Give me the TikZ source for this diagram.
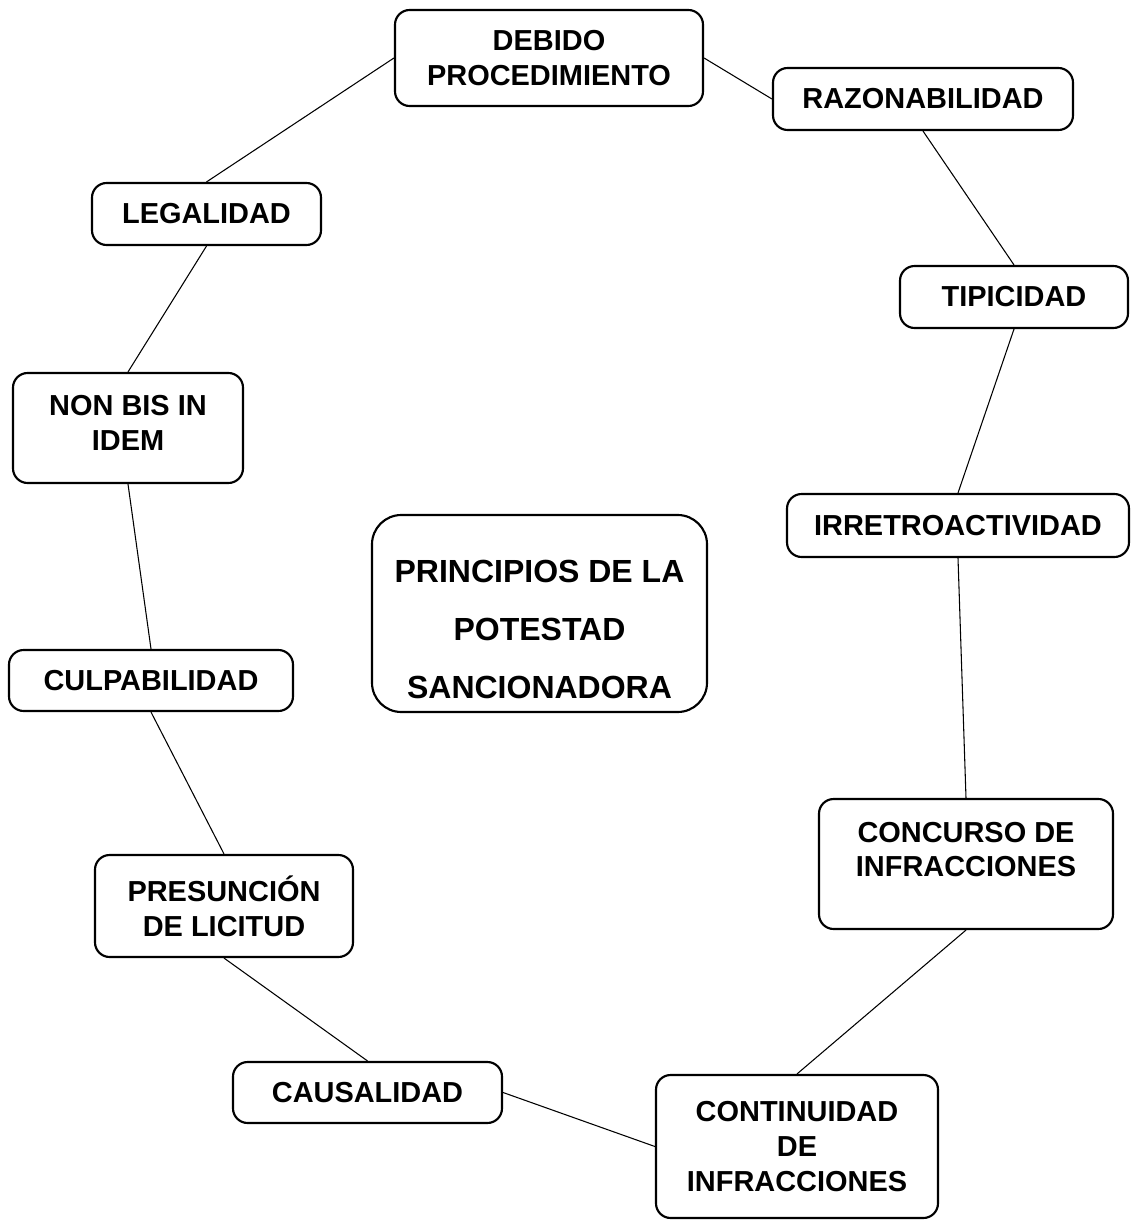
\documentclass[tikz,border=0pt]{standalone}
\usepackage{fontspec}
\setmainfont{Liberation Sans}
\begin{document}
\begin{tikzpicture}[x=0.75pt,y=-0.75pt]

  \tikzstyle{box}=[draw,rounded corners=11pt,line width=1.6pt,align=center,font=\fontsize{21.7}{26}\selectfont\bfseries,inner sep=0pt]
  \tikzstyle{link}=[line width=0.8pt]

  \useasboundingbox (0,0) rectangle (1131,1220);

  \node[box,minimum width=231pt,minimum height=72pt] (debido) at (549,58) {DEBIDO\\PROCEDIMIENTO};
  \node[box,minimum width=225pt,minimum height=46.5pt] (razon) at (923,99) {RAZONABILIDAD};
  \node[box,minimum width=171.75pt,minimum height=46.5pt] (legal) at (206.5,214) {LEGALIDAD};
  \node[box,minimum width=171pt,minimum height=46.5pt] (tipic) at (1014,297) {TIPICIDAD};
  \node[box,minimum width=172.5pt,minimum height=82.5pt] (nonbis) at (128,428) {NON BIS IN\\IDEM\rule[-8pt]{0pt}{8pt}};
  \node[box,minimum width=256.5pt,minimum height=47.25pt] (irre) at (958,525.5) {IRRETROACTIVIDAD};
  \node[box,minimum width=251.25pt,minimum height=147.75pt,rounded corners=22pt,
        font=\fontsize{24}{43.5}\selectfont\bfseries] (princ) at (539.5,613.5) {\rule{0pt}{40pt}PRINCIPIOS DE LA\\POTESTAD\\SANCIONADORA};
  \node[box,minimum width=213pt,minimum height=45.75pt] (culp) at (151,680.5) {CULPABILIDAD};
  \node[box,minimum width=220.5pt,minimum height=97.5pt] (conc) at (966,864) {CONCURSO DE\\INFRACCIONES\rule[-22pt]{0pt}{22pt}};
  \node[box,minimum width=193.5pt,minimum height=76.5pt] (pres) at (224,906) {PRESUNCIÓN\\DE LICITUD};
  \node[box,minimum width=201.75pt,minimum height=45.75pt] (caus) at (367.5,1092.5) {CAUSALIDAD};
  \node[box,minimum width=211.5pt,minimum height=107.25pt] (cont) at (797,1146.5) {CONTINUIDAD\\DE\\INFRACCIONES};

  % right side
  \draw[link] (debido.east) -- (razon.west);
  \draw[link] (razon.south) -- (tipic.north);
  \draw[link] (tipic.south) -- (irre.north);
  \draw[link] (irre.south) -- (conc.north);
  \draw[link] (conc.south) -- (cont.north);
  % bottom and left side
  \draw[link] (cont.west) -- (caus.east);
  \draw[link] (caus.north) -- (pres.south);
  \draw[link] (pres.north) -- (culp.south);
  \draw[link] (culp.north) -- (nonbis.south);
  \draw[link] (nonbis.north) -- (legal.south);
  \draw[link] (legal.north) -- (debido.west);

\end{tikzpicture}
\end{document}
